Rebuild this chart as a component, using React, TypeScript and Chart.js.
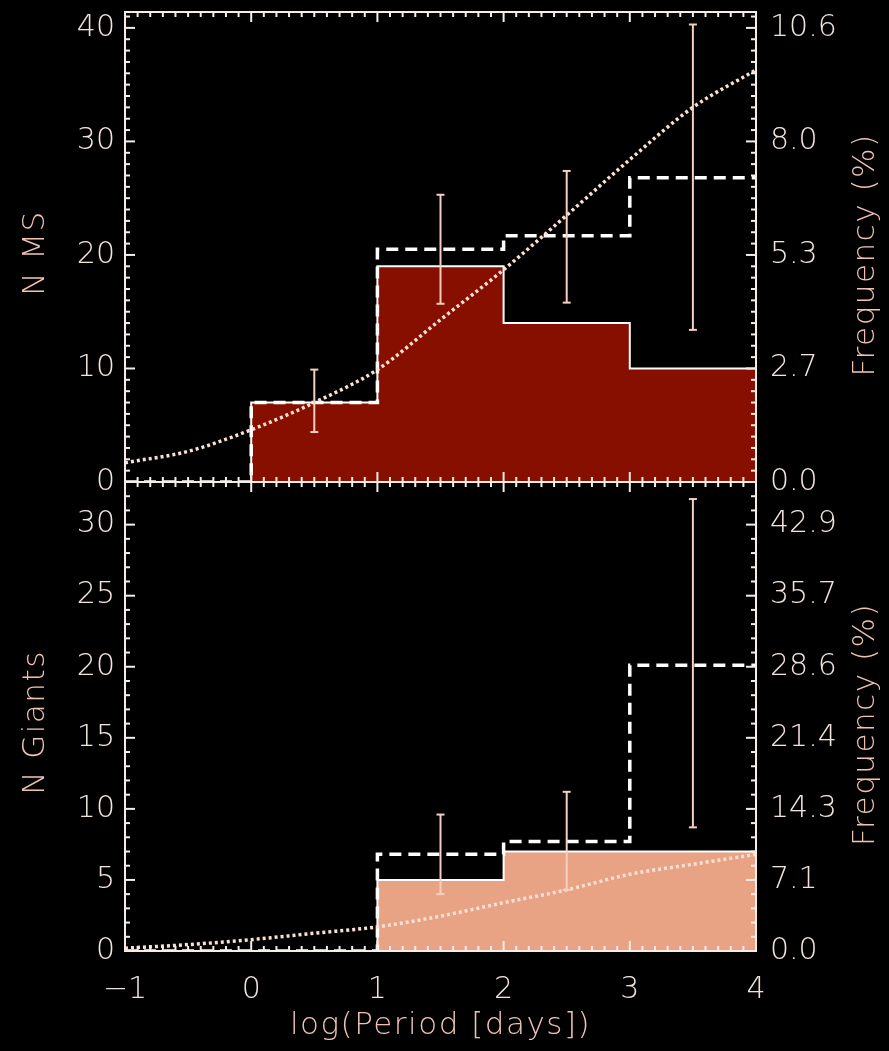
import { useEffect, useRef } from "react";
import { Chart, registerables } from "chart.js";

Chart.register(...registerables);

// ---------- data ----------
const binEdges = [-1, 0, 1, 2, 3, 4];
const xTickValues = [-1, 0, 1, 2, 3, 4];
const xTickLabels = ["\u22121", "0", "1", "2", "3", "4"];
const modelX = [-1, -0.5, 0, 0.5, 1, 1.5, 2, 2.5, 3, 3.5, 4];

// main-sequence companions
const msObserved = [0, 7, 19, 14, 10];
const msCorrected = [0, 7, 20.5, 21.7, 26.8];
const msErrX = [0.5, 1.5, 2.5, 3.5];
const msErrLow = [4.4, 15.7, 15.8, 13.4];
const msErrHigh = [9.9, 25.3, 27.4, 40.3];
const msModel = [1.7, 2.7, 4.6, 7.0, 9.9, 14.3, 18.7, 23.5, 28.4, 33.0, 36.3];
const msLeftTicks = [0, 10, 20, 30, 40];
const msRightTicks = ["0.0", "2.7", "5.3", "8.0", "10.6"];
const msYMax = 41.4;

// giants
const gObserved = [0, 0, 5, 7, 7];
const gCorrected = [0, 0, 6.8, 7.7, 20.1];
const gErrX = [1.5, 2.5, 3.5];
const gErrLow = [4.0, 4.3, 8.7];
const gErrHigh = [9.6, 11.2, 31.8];
const gModel = [0.2, 0.45, 0.8, 1.25, 1.7, 2.45, 3.4, 4.3, 5.4, 6.1, 6.8];
const gLeftTicks = [0, 5, 10, 15, 20, 25, 30];
const gRightTicks = ["0.0", "7.1", "14.3", "21.4", "28.6", "35.7", "42.9"];
const gYMax = 33.0;

// ---------- layout & style ----------
const W = 889;
const H = 1051;
const PLOT_LEFT = 125;
const PLOT_RIGHT = 756;
const MID_Y = 482;
const FONT_FAMILY = "'DejaVu Sans', 'Liberation Sans', sans-serif";
const TICK_FONT = { family: FONT_FAMILY, size: 30, weight: "200" as any };
const TICK_COLOR = "#f3e3dd";
const TITLE_COLOR = "#efc2b2";
const FRAME_COLOR = "#f6ece8";
const ERR_COLOR = "#f5cfc2";
const MODEL_COLOR = "#fbe0d5";

type Panel = {
  observed: number[];
  corrected: number[];
  errX: number[];
  errLow: number[];
  errHigh: number[];
  model: number[];
  leftTicks: number[];
  rightTicks: string[];
  yMax: number;
  fill: string;
  leftTitle: string;
  isBottom: boolean;
  top: number;
  bottom: number;
};

const panels: Panel[] = [
  {
    observed: msObserved,
    corrected: msCorrected,
    errX: msErrX,
    errLow: msErrLow,
    errHigh: msErrHigh,
    model: msModel,
    leftTicks: msLeftTicks,
    rightTicks: msRightTicks,
    yMax: msYMax,
    fill: "#870f00",
    leftTitle: "N MS",
    isBottom: false,
    top: 12,
    bottom: MID_Y,
  },
  {
    observed: gObserved,
    corrected: gCorrected,
    errX: gErrX,
    errLow: gErrLow,
    errHigh: gErrHigh,
    model: gModel,
    leftTicks: gLeftTicks,
    rightTicks: gRightTicks,
    yMax: gYMax,
    fill: "#e8a385",
    leftTitle: "N Giants",
    isBottom: true,
    top: MID_Y,
    bottom: 951,
  },
];

function histPoints(counts: number[]) {
  const pts = counts.map((c, i) => ({ x: binEdges[i], y: c }));
  pts.push({ x: binEdges[binEdges.length - 1], y: counts[counts.length - 1] });
  return pts;
}

function zeroPadding(s: any) {
  s.paddingTop = 0;
  s.paddingBottom = 0;
  s.paddingLeft = 0;
  s.paddingRight = 0;
}

function verticalText(ctx: CanvasRenderingContext2D, text: string, x: number, y: number) {
  ctx.save();
  ctx.translate(x, y);
  ctx.rotate(-Math.PI / 2);
  ctx.fillText(text, 0, 0);
  ctx.restore();
}

// error bars, inward tick marks, frame and axis titles
function overlayPlugin(p: Panel) {
  return {
    id: "panelOverlay",
    afterDatasetsDraw(chart: any) {
      const { ctx, chartArea: a } = chart;
      const xs = chart.scales.x;
      const ys = chart.scales.y;
      const seg = (x1: number, y1: number, x2: number, y2: number) => {
        ctx.beginPath();
        ctx.moveTo(x1, y1);
        ctx.lineTo(x2, y2);
        ctx.stroke();
      };
      ctx.save();

      // error bars
      ctx.strokeStyle = ERR_COLOR;
      ctx.lineWidth = 2;
      p.errX.forEach((xv, i) => {
        const px = xs.getPixelForValue(xv);
        const lo = ys.getPixelForValue(p.errLow[i]);
        const hi = ys.getPixelForValue(p.errHigh[i]);
        seg(px, lo, px, hi);
        seg(px - 4, lo, px + 4, lo);
        seg(px - 4, hi, px + 4, hi);
      });

      // tick marks
      ctx.strokeStyle = FRAME_COLOR;
      ctx.lineWidth = 2;
      const xMin = xTickValues[0];
      const xMax = xTickValues[xTickValues.length - 1];
      const nx = Math.round((xMax - xMin) * 10);
      for (let i = 0; i <= nx; i++) {
        const v = xMin + i / 10;
        const px = xs.getPixelForValue(v);
        const len = i % 10 === 0 ? 10 : 5;
        seg(px, a.bottom, px, a.bottom - len);
        seg(px, a.top, px, a.top + len);
      }
      const majors = new Set(p.leftTicks);
      for (let v = 0; v <= Math.floor(p.yMax); v++) {
        const py = ys.getPixelForValue(v);
        const len = majors.has(v) ? 10 : 5;
        seg(a.left, py, a.left + len, py);
        seg(a.right, py, a.right - len, py);
      }

      // frame
      ctx.strokeRect(a.left, a.top, a.right - a.left, a.bottom - a.top);

      // titles
      ctx.fillStyle = TITLE_COLOR;
      ctx.font = `200 31px ${FONT_FAMILY}`;
      ctx.textAlign = "center";
      ctx.textBaseline = "middle";
      (ctx as any).letterSpacing = "1.5px";
      const cy = (a.top + a.bottom) / 2;
      verticalText(ctx, p.leftTitle, 36, cy + 6);
      verticalText(ctx, "Frequency (%)", 866, cy + 8);
      if (p.isBottom) {
        ctx.fillText("log(Period [days])", (a.left + a.right) / 2, 1026);
      }
      ctx.restore();
    },
  };
}

function buildChart(canvas: HTMLCanvasElement, p: Panel) {
  const xHeight = H - p.bottom;
  return new Chart(canvas, {
    type: "line",
    data: {
      datasets: [
        {
          data: modelX.map((x, i) => ({ x, y: p.model[i] })),
          borderColor: MODEL_COLOR,
          borderWidth: 3.5,
          borderDash: [3, 3],
          pointRadius: 0,
          cubicInterpolationMode: "monotone",
          fill: false,
        },
        {
          data: histPoints(p.corrected),
          stepped: "before",
          borderColor: "#ffffff",
          borderWidth: 3.5,
          borderDash: [12, 7],
          pointRadius: 0,
          fill: false,
        },
        {
          data: histPoints(p.observed),
          stepped: "before",
          borderColor: "#ffffff",
          borderWidth: 2,
          backgroundColor: p.fill,
          fill: "origin",
          pointRadius: 0,
        },
      ],
    } as any,
    options: {
      responsive: false,
      animation: false,
      events: [],
      layout: { padding: { top: p.top, bottom: p.isBottom ? 0 : H - p.bottom, left: 0, right: 0 } },
      plugins: { legend: { display: false }, tooltip: { enabled: false } },
      scales: {
        x: {
          type: "linear",
          position: "bottom",
          min: xTickValues[0],
          max: xTickValues[xTickValues.length - 1],
          grid: { display: false, drawTicks: false },
          border: { display: false },
          afterBuildTicks: (s: any) => {
            s.ticks = xTickValues.map((value) => ({ value }));
          },
          ticks: {
            display: p.isBottom,
            autoSkip: false,
            maxRotation: 0,
            padding: 21,
            color: TICK_COLOR,
            font: TICK_FONT,
            callback: (_v: any, i: number) => xTickLabels[i],
          },
          afterFit: (s: any) => {
            s.height = p.isBottom ? xHeight : 0;
            zeroPadding(s);
          },
        },
        y: {
          type: "linear",
          position: "left",
          min: 0,
          max: p.yMax,
          grid: { display: false, drawTicks: false },
          border: { display: false },
          afterBuildTicks: (s: any) => {
            s.ticks = p.leftTicks.map((value) => ({ value }));
          },
          ticks: {
            autoSkip: false,
            padding: 10,
            color: TICK_COLOR,
            font: TICK_FONT,
            callback: (_v: any, i: number) => String(p.leftTicks[i]),
          },
          afterFit: (s: any) => {
            s.width = PLOT_LEFT;
            zeroPadding(s);
          },
        },
        y2: {
          type: "linear",
          position: "right",
          min: 0,
          max: p.yMax,
          grid: { display: false, drawTicks: false },
          border: { display: false },
          afterBuildTicks: (s: any) => {
            s.ticks = p.leftTicks.map((value) => ({ value }));
          },
          ticks: {
            autoSkip: false,
            padding: 14,
            color: TICK_COLOR,
            font: TICK_FONT,
            callback: (_v: any, i: number) => p.rightTicks[i],
          },
          afterFit: (s: any) => {
            s.width = W - PLOT_RIGHT;
            zeroPadding(s);
          },
        },
      },
    } as any,
    plugins: [overlayPlugin(p)],
  });
}

export default function App() {
  const topRef = useRef<HTMLCanvasElement>(null);
  const bottomRef = useRef<HTMLCanvasElement>(null);

  useEffect(() => {
    const charts = [
      buildChart(topRef.current as HTMLCanvasElement, panels[0]),
      buildChart(bottomRef.current as HTMLCanvasElement, panels[1]),
    ];
    return () => charts.forEach((c) => c.destroy());
  }, []);

  const canvasStyle: any = { position: "absolute", left: 0, top: 0, display: "block" };
  return (
    <div style={{ position: "absolute", left: 0, top: 0, width: W, height: H, background: "#000", overflow: "hidden" }}>
      <canvas ref={bottomRef} width={W} height={H} style={canvasStyle} />
      <canvas ref={topRef} width={W} height={H} style={canvasStyle} />
    </div>
  );
}
